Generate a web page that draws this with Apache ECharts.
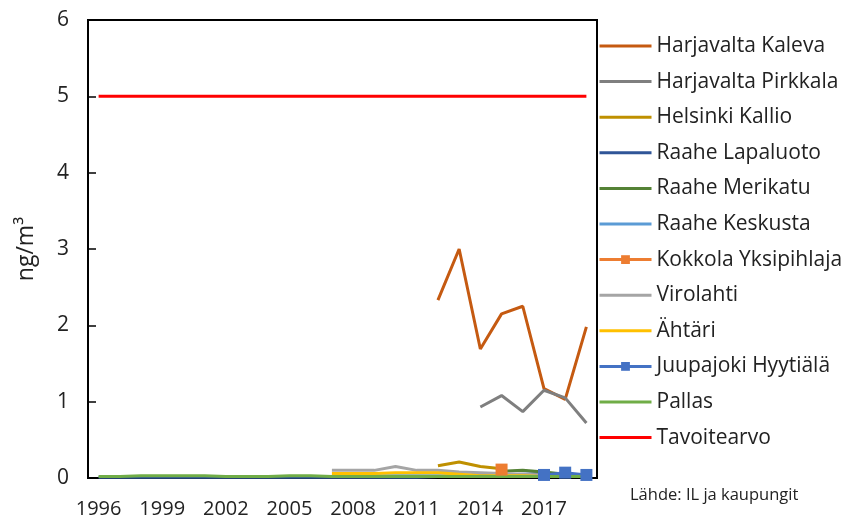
<!DOCTYPE html>
<html>
<head>
<meta charset="utf-8">
<script src="https://cdn.jsdelivr.net/npm/echarts@6/dist/echarts.min.js"></script>
<style>
  html, body { margin: 0; padding: 0; background: #fff; }
  #chart-area { width: 856px; height: 523px; }
</style>
</head>
<body>
<div id="chart-area"></div>
<script>
// years on the x axis
const years = ['1996', '1997', '1998', '1999', '2000', '2001', '2002', '2003', '2004', '2005', '2006', '2007',
  '2008', '2009', '2010', '2011', '2012', '2013', '2014', '2015', '2016', '2017', '2018', '2019'];

const _ = null;
const harjavaltaKaleva = [_, _, _, _, _, _, _, _, _, _, _, _, _, _, _, _, 2.33, 3.0, 1.69, 2.15, 2.25, 1.17, 1.03, 1.98];
const harjavaltaPirkkala = [_, _, _, _, _, _, _, _, _, _, _, _, _, _, _, _, _, _, 0.93, 1.08, 0.87, 1.15, 1.05, 0.72];
const helsinkiKallio = [_, _, _, _, _, _, _, _, _, _, _, _, _, _, _, _, 0.16, 0.21, 0.15, 0.12, _, _, _, _];
const raaheLapaluoto = [0.01, 0.01, 0.01, 0.01, 0.01, 0.01, 0.01, 0.01, 0.01, 0.01, 0.01, 0.01, 0.01, 0.01, 0.01, 0.01, 0.02, 0.02, 0.03, 0.04, 0.05, 0.06, 0.05, 0.03];
const raaheMerikatu = [_, _, _, _, _, _, _, _, _, _, _, _, _, _, _, _, _, _, _, 0.09, 0.1, 0.08, 0.05, 0.03];
const raaheKeskusta = [_, _, _, _, _, _, _, _, _, _, _, 0.03, 0.03, 0.03, 0.03, 0.03, 0.03, 0.03, 0.03, 0.03, 0.03, 0.03, 0.03, 0.02];
const kokkolaYksipihlaja = [_, _, _, _, _, _, _, _, _, _, _, _, _, _, _, _, _, _, _, 0.11, _, _, _, _];
const virolahti = [_, _, _, _, _, _, _, _, _, _, _, 0.1, 0.1, 0.1, 0.15, 0.1, 0.1, 0.08, 0.07, 0.06, 0.05, 0.04, 0.05, 0.03];
const ahtari = [_, _, _, _, _, _, _, _, _, _, _, 0.06, 0.06, 0.06, 0.07, 0.07, 0.07, 0.05, 0.03, 0.03, 0.03, 0.02, 0.02, 0.02];
const juupajokiHyytiala = [_, _, _, _, _, _, _, _, _, _, _, _, _, _, _, _, _, _, _, _, _, 0.04, 0.07, 0.04];
const pallas = [0.02, 0.02, 0.03, 0.03, 0.03, 0.03, 0.02, 0.02, 0.02, 0.03, 0.03, 0.02, 0.02, 0.02, 0.02, 0.02, 0.02, 0.02, 0.02, 0.02, 0.02, 0.02, 0.02, 0.02];
const tavoitearvo = years.map(() => 5);

const seriesDefs = [
  ['Harjavalta Kaleva', harjavaltaKaleva, '#C55A11', 'none'],
  ['Harjavalta Pirkkala', harjavaltaPirkkala, '#7F7F7F', 'none'],
  ['Helsinki Kallio', helsinkiKallio, '#BF9000', 'none'],
  ['Raahe Lapaluoto', raaheLapaluoto, '#2F5597', 'none'],
  ['Raahe Merikatu', raaheMerikatu, '#548235', 'none'],
  ['Raahe Keskusta', raaheKeskusta, '#5B9BD5', 'none'],
  ['Kokkola Yksipihlaja', kokkolaYksipihlaja, '#ED7D31', 'rect'],
  ['Virolahti', virolahti, '#A5A5A5', 'none'],
  ['Ähtäri', ahtari, '#FFC000', 'none'],
  ['Juupajoki Hyytiälä', juupajokiHyytiala, '#4472C4', 'rect'],
  ['Pallas', pallas, '#70AD47', 'none'],
  ['Tavoitearvo', tavoitearvo, '#FF0000', 'none']
];

const fontFamily = 'Open Sans';

let chartDom = document.getElementById('chart-area');
let myChart = echarts.init(chartDom);
let option = {
  animation: false,
  textStyle: { fontFamily: fontFamily },
  grid: {
    left: 88, top: 20, right: 259, bottom: 45,
    show: true, borderColor: '#000', borderWidth: 2
  },
  legend: {
    orient: 'vertical',
    left: 593,
    top: 29,
    itemWidth: 52,
    itemHeight: 11,
    itemGap: 11.6,
    textStyle: { fontSize: 21, color: '#222', lineHeight: 24, fontFamily: fontFamily },
    data: seriesDefs.map(([name, , color, symbol]) => ({
      name: name,
      itemStyle: { color: color, opacity: symbol === 'none' ? 0 : 1 },
      lineStyle: { color: color, width: 3 }
    }))
  },
  xAxis: {
    type: 'category',
    data: years,
    boundaryGap: true,
    axisLine: { lineStyle: { color: '#000', width: 2 } },
    axisTick: { interval: 0, length: 7, lineStyle: { color: '#000', width: 1.5 } },
    axisLabel: { interval: 2, fontSize: 20, color: '#222', margin: 21 },
    splitLine: { show: false }
  },
  yAxis: {
    type: 'value',
    min: 0,
    max: 6,
    interval: 1,
    name: 'ng/m³',
    nameLocation: 'middle',
    nameGap: 50,
    nameRotate: 90,
    nameTextStyle: { fontSize: 23, color: '#222' },
    axisLine: { show: true, lineStyle: { color: '#000', width: 2 } },
    axisTick: { show: true, inside: true, length: 8, lineStyle: { color: '#000', width: 1.5 } },
    axisLabel: { fontSize: 21, color: '#222', margin: 19 },
    splitLine: { show: false }
  },
  graphic: [
    {
      type: 'text',
      left: 630,
      top: 487,
      style: { text: 'Lähde: IL ja kaupungit', fontSize: 16.5, fill: '#222', fontFamily: fontFamily }
    }
  ],
  series: seriesDefs.map(([name, data, color, symbol]) => ({
    name: name,
    type: 'line',
    data: data,
    symbol: symbol === 'none' ? 'circle' : symbol,
    symbolSize: 12,
    showSymbol: symbol !== 'none',
    connectNulls: false,
    itemStyle: { color: color },
    lineStyle: { color: color, width: 3 }
  }))
};

option && myChart.setOption(option);
</script>
</body>
</html>
